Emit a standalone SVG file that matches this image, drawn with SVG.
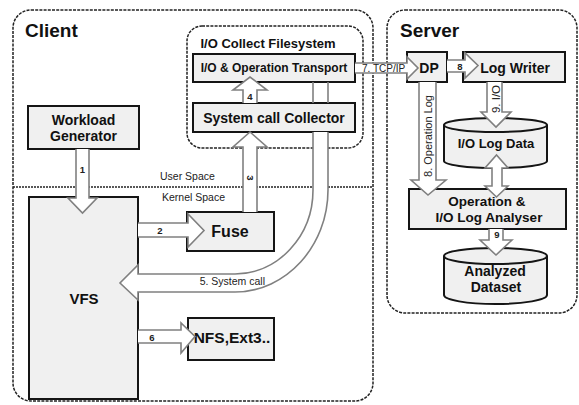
<svg xmlns="http://www.w3.org/2000/svg" width="579" height="405" viewBox="0 0 579 405">
<style>
.cont{fill:none;stroke:#222;stroke-width:1.5;stroke-dasharray:3 1.2}
.box{fill:#f0f0f0;stroke:#151515;stroke-width:2}
.arr{fill:#fff;stroke:#808080;stroke-width:1.6;stroke-linejoin:miter}
.t{font-family:"Liberation Sans",Arial,sans-serif;font-weight:bold;fill:#111;text-anchor:middle}
.title{font-family:"Liberation Sans",Arial,sans-serif;font-weight:bold;fill:#111;font-size:19px}
.lb{font-family:"Liberation Sans",Arial,sans-serif;fill:#222;font-size:10.5px}
.n{font-family:"Liberation Sans",Arial,sans-serif;fill:#222;font-size:9.5px;font-weight:bold;text-anchor:middle}
</style>
<rect width="579" height="405" fill="#fff"/>
<g id="client">
<rect class="cont" x="13" y="10" width="360" height="391" rx="18"/>
<text class="title" x="25" y="37">Client</text>
</g>
<g id="server">
<rect class="cont" x="387" y="10" width="190" height="303" rx="18"/>
<text class="title" x="400" y="37">Server</text>
</g>
<g id="io-collect-fs">
<rect class="cont" x="187" y="26" width="176" height="122" rx="15"/>
<text class="t" x="268" y="48" style="font-size:13px">I/O Collect Filesystem</text>
</g>
<g id="space-divider">
<line x1="13" y1="187" x2="373" y2="187" stroke="#222" stroke-width="1.5" stroke-dasharray="2 1"/>
<text class="lb" x="160" y="180">User Space</text>
<text class="lb" x="162" y="201">Kernel Space</text>
</g>
<g id="transport">
<rect class="box" x="193" y="54" width="162" height="28"/>
<text class="t" x="274" y="72" style="font-size:12px">I/O &amp; Operation Transport</text>
</g>
<g id="collector">
<rect class="box" x="193" y="103" width="162" height="29"/>
<text class="t" x="274" y="123" style="font-size:14px">System call Collector</text>
</g>
<g id="workload">
<rect class="box" x="28" y="106" width="111" height="43"/>
<text class="t" x="83.5" y="125" style="font-size:14px">Workload</text>
<text class="t" x="83.5" y="141" style="font-size:14px">Generator</text>
</g>
<g id="vfs">
<rect class="box" x="29" y="197" width="109" height="202"/>
<text class="t" x="84" y="304" style="font-size:15px">VFS</text>
</g>
<g id="fuse">
<rect class="box" x="187" y="212" width="87" height="39"/>
<text class="t" x="230" y="237" style="font-size:16px">Fuse</text>
</g>
<g id="nfs">
<rect class="box" x="188" y="318" width="86" height="42"/>
<text class="t" x="232" y="343" style="font-size:15.5px">NFS,Ext3..</text>
</g>
<g id="dp">
<rect class="box" x="407" y="52" width="40" height="30"/>
<text class="t" x="429" y="73" style="font-size:14px">DP</text>
</g>
<g id="logwriter">
<rect class="box" x="463" y="52" width="102" height="30"/>
<text class="t" x="515" y="73" style="font-size:14px">Log Writer</text>
</g>
<g id="iologdata">
<path class="box" d="M444,125 A51.5,7 0 0 1 547,125 V161 A51.5,7 0 0 1 444,161 Z"/>
<path d="M444,125 A51.5,7 0 0 0 547,125" fill="none" stroke="#151515" stroke-width="2"/>
<text class="t" x="496" y="148" style="font-size:13px">I/O Log Data</text>
</g>
<g id="analyser">
<rect class="box" x="409" y="189" width="157" height="40"/>
<text class="t" x="487" y="206" style="font-size:13.5px">Operation &amp;</text>
<text class="t" x="489" y="222" style="font-size:13.5px">I/O Log Analyser</text>
</g>
<g id="dataset">
<path class="box" d="M444,256 A51.5,8 0 0 1 547,256 V295 A51.5,9 0 0 1 444,295 Z"/>
<path d="M444,256 A51.5,8 0 0 0 547,256" fill="none" stroke="#151515" stroke-width="2"/>
<text class="t" x="495" y="276" style="font-size:14px">Analyzed</text>
<text class="t" x="496" y="292" style="font-size:14px">Dataset</text>
</g>
<g id="connectors">
<!-- 5 system call -->
<path d="M313,82 V103 M328,82 V103" fill="none" stroke="#808080" stroke-width="1.6"/>
<path class="arr" d="M328,132 V190 C328,246 286,292 235,292 H138 V300 L120,283 L138,265 V274 H235 C278,274 313,236 313,190 V132"/>
<!-- 1 -->
<path class="arr" d="M76,149 V198 H68 L82.5,213 L97,198 H89 V149"/>
<!-- 2 -->
<path class="arr" d="M138,223 H188 V214 L204,230.5 L188,247 V237 H138"/>
<!-- 3 -->
<path class="arr" d="M243,212 V147 H233 L250,132 L267,147 H257 V212"/>
<!-- 4 -->
<path class="arr" d="M243,103 V90 H233 L250,77 L267,90 H257 V103"/>
<!-- 6 -->
<path class="arr" d="M138,330 H181 V323 L195,336.5 L181,353 V343 H138"/>
<!-- 7 -->
<path class="arr" d="M355,63 H407 V57 L418,68 L407,79 V73 H355"/>
<!-- 8 -->
<path class="arr" d="M447,60 H465 V53 L478,65.5 L465,78 V72 H447"/>
<!-- 9 I/O -->
<path class="arr" d="M487,82 V112 H481 L496,127 L511,112 H502 V82"/>
<!-- 8 operation log -->
<path class="arr" d="M419,82 V180 H411 L428,195 L446,180 H436 V82"/>
<!-- double arrow -->
<path class="arr" d="M492,168 H485 L496.5,155 L508,168 H502 V186 H508 L496.5,197 L485,186 H492 Z"/>
<!-- 9 -->
<path class="arr" d="M489,229 V240 H480 L496,255 L512,240 H503 V229"/>
<text class="n" x="82.5" y="173">1</text>
<text class="n" x="160" y="234">2</text>
<text class="n" transform="translate(247,178) rotate(90)">3</text>
<text class="n" x="250" y="100">4</text>
<text class="lb" x="265" y="285" text-anchor="end">5. System call</text>
<text class="n" x="152" y="341">6</text>
<text class="lb" x="362" y="72" style="font-size:10px">7. TCP/IP</text>
<text class="n" x="460" y="70">8</text>
<text class="lb" text-anchor="middle" transform="translate(432,136) rotate(-90)" style="font-size:11px">8. Operation Log</text>
<text class="lb" text-anchor="middle" transform="translate(500,99) rotate(-90)" style="font-size:11.5px">9. I/O</text>
<text class="n" x="497" y="238">9</text>
</g>
</svg>
